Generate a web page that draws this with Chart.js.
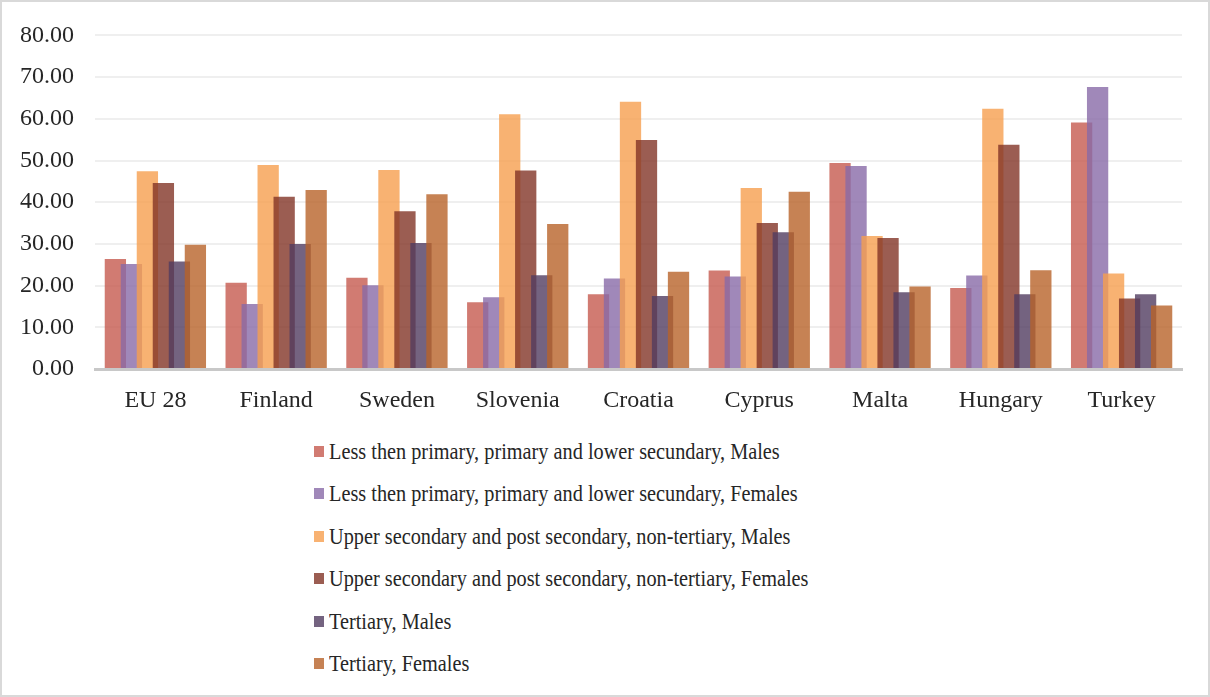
<!DOCTYPE html>
<html>
<head>
<meta charset="utf-8">
<script src="https://cdn.jsdelivr.net/npm/chart.js@4"></script>
<style>
    body { margin: 0; background: #fff; }
    #wrap { position: relative; width: 1210px; height: 697px; overflow: hidden; }
    #frame { position: absolute; left: 0; top: 0; width: 1210px; height: 697px; box-sizing: border-box; border: 2px solid #d9d9d9; pointer-events: none; }
    #chartBox { position: absolute; left: 0; top: 0; width: 1210px; height: 430px; }
    #legend { position: absolute; left: 314px; top: 430px; font-family: 'Liberation Serif', 'Times New Roman', serif; font-size: 20.3px; color: #262626; }
    .item { position: absolute; left: 0; white-space: nowrap; height: 24px; line-height: 24px; }
    .box { position: absolute; left: 0; top: 7px; width: 10px; height: 11px; }
    .text { position: absolute; left: 15px; top: 0; transform: scaleY(1.15); transform-origin: 0 55%; }
</style>
</head>
<body>
<div id="wrap">
    <div id="chartBox"><canvas id="educationChart"></canvas></div>
    <div id="legend"></div>
    <div id="frame"></div>
</div>
<script>
const countries = ['EU 28', 'Finland', 'Sweden', 'Slovenia', 'Croatia', 'Cyprus', 'Malta', 'Hungary', 'Turkey'];

const seriesNames = [
    'Less then primary, primary and lower secundary, Males',
    'Less then primary, primary and lower secundary, Females',
    'Upper secondary and post secondary, non-tertiary, Males',
    'Upper secondary and post secondary, non-tertiary, Females',
    'Tertiary, Males',
    'Tertiary, Females'
];

const lowMales = [26.4, 20.7, 21.9, 16.0, 17.9, 23.6, 49.4, 19.4, 59.1];
const lowFemales = [25.2, 15.6, 20.1, 17.2, 21.7, 22.2, 48.7, 22.4, 67.6];
const upperMales = [47.4, 48.9, 47.7, 61.1, 64.1, 43.4, 31.9, 62.4, 22.9];
const upperFemales = [44.6, 41.3, 37.8, 47.6, 54.9, 35.0, 31.4, 53.8, 16.9];
const tertiaryMales = [25.8, 30.0, 30.2, 22.5, 17.5, 32.8, 18.4, 17.9, 17.9];
const tertiaryFemales = [29.8, 42.9, 41.9, 34.8, 23.3, 42.5, 19.8, 23.7, 15.2];

const seriesColors = [
    'rgba(198, 90, 79, 0.8)',
    'rgba(136, 106, 167, 0.8)',
    'rgba(246, 159, 79, 0.8)',
    'rgba(130, 52, 39, 0.8)',
    'rgba(81, 60, 96, 0.8)',
    'rgba(184, 99, 41, 0.8)'
];

const yTicks = [0, 10, 20, 30, 40, 50, 60, 70, 80];

const allSeries = [lowMales, lowFemales, upperMales, upperFemales, tertiaryMales, tertiaryFemales];

const datasets = allSeries.map(function (values, i) {
    return {
        label: seriesNames[i],
        data: values,
        backgroundColor: seriesColors[i],
        borderWidth: 0,
        categoryPercentage: 0.795,
        barPercentage: 1.33
    };
});

// draw the series in their own order so later bars sit on top of earlier ones
const drawInOrder = {
    id: 'drawInOrder',
    beforeDatasetsDraw: function (chart) {
        const area = chart.chartArea;
        const ctx = chart.ctx;
        ctx.save();
        ctx.beginPath();
        ctx.rect(area.left, area.top, area.right - area.left, area.bottom - area.top);
        ctx.clip();
        chart.getSortedVisibleDatasetMetas().forEach(function (meta) {
            meta.controller.draw();
        });
        ctx.restore();
        return false;
    }
};

const serif = "'Liberation Serif', 'Times New Roman', serif";

const ctx = document.getElementById('educationChart').getContext('2d');
const educationChart = new Chart(ctx, {
    type: 'bar',
    data: {
        labels: countries,
        datasets: datasets
    },
    plugins: [drawInOrder],
    options: {
        responsive: true,
        maintainAspectRatio: false,
        animation: false,
        layout: {
            padding: { top: 33, right: 28, left: 0, bottom: 0 }
        },
        plugins: {
            legend: { display: false },
            tooltip: { enabled: false }
        },
        scales: {
            x: {
                grid: { display: false, drawTicks: false },
                border: { display: true, color: '#c8c8c8', width: 3, z: 1 },
                ticks: {
                    color: '#262626',
                    padding: 17,
                    font: { family: serif, size: 24 }
                },
                afterFit: function (scale) { scale.height = 61; }
            },
            y: {
                min: 0,
                max: 80,
                afterBuildTicks: function (scale) {
                    scale.ticks = yTicks.map(function (v) { return { value: v }; });
                },
                grid: { color: '#efefef', lineWidth: 2, drawTicks: false },
                border: { display: false },
                ticks: {
                    color: '#262626',
                    padding: 21,
                    font: { family: serif, size: 24 },
                    callback: function (value) { return Number(value).toFixed(2); }
                },
                afterFit: function (scale) { scale.width = 95; }
            }
        }
    }
});

// vertical legend below the plot
const legendBox = document.getElementById('legend');
seriesNames.forEach(function (name, i) {
    const item = document.createElement('div');
    item.className = 'item';
    item.style.top = (9 + i * 42.4) + 'px';
    const box = document.createElement('span');
    box.className = 'box';
    box.style.background = seriesColors[i];
    const text = document.createElement('span');
    text.className = 'text';
    text.textContent = name;
    item.appendChild(box);
    item.appendChild(text);
    legendBox.appendChild(item);
});
</script>
</body>
</html>
